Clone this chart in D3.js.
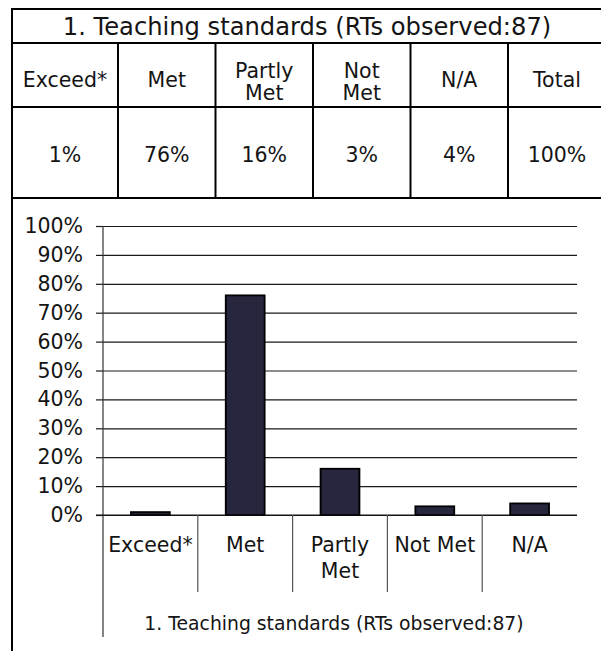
<!DOCTYPE html>
<html>
<head>
<meta charset="utf-8">
<script src="https://cdn.jsdelivr.net/npm/d3@7"></script>
<style>
  html, body { margin: 0; padding: 0; background: #fff; }
  svg { display: block; font-family: "DejaVu Sans", Verdana, sans-serif; }
</style>
</head>
<body>
<svg id="chart" width="601" height="651"></svg>
<script>
// ---- data ----
const title = "1. Teaching standards (RTs observed:87)";
const categories = ["Exceed*", "Met", "Partly Met", "Not Met", "N/A"];
const values = [1, 76, 16, 3, 4];           // percent of RTs observed
const totalValue = 100;
const headerLines = [["Exceed*"], ["Met"], ["Partly", "Met"], ["Not", "Met"], ["N/A"], ["Total"]];
const categoryLines = [["Exceed*"], ["Met"], ["Partly", "Met"], ["Not Met"], ["N/A"]];
const yTicks = [0, 10, 20, 30, 40, 50, 60, 70, 80, 90, 100];

const svg = d3.select("#chart");
const ink = "#141414";

// ---- summary table ----
const tbl = { left: 12, right: 606, top: 9, titleBottom: 43, headBottom: 107, valBottom: 198 };
const colEdges = [12, 118, 215.5, 313, 410.5, 508, 606];
const tableValues = values.map(v => v + "%").concat([totalValue + "%"]);

const tg = svg.append("g").attr("class", "table");
// outer frame (left edge runs down past the chart)
tg.append("line").attr("x1", tbl.left).attr("x2", tbl.left).attr("y1", tbl.top - 1).attr("y2", 651)
  .attr("stroke", "#000").attr("stroke-width", 2);
[tbl.top, tbl.titleBottom, tbl.headBottom, tbl.valBottom].forEach(y => {
  tg.append("line").attr("x1", tbl.left).attr("x2", tbl.right).attr("y1", y).attr("y2", y)
    .attr("stroke", "#000").attr("stroke-width", 2);
});
colEdges.slice(1, -1).forEach(x => {
  tg.append("line").attr("x1", x).attr("x2", x).attr("y1", tbl.titleBottom).attr("y2", tbl.valBottom)
    .attr("stroke", "#000").attr("stroke-width", 2);
});

tg.append("text").attr("x", (tbl.left + tbl.right) / 2 - 2).attr("y", 35)
  .attr("text-anchor", "middle").attr("font-size", 24.2).attr("fill", ink).text(title);

headerLines.forEach((lines, i) => {
  const cx = (colEdges[i] + colEdges[i + 1]) / 2;
  const t = tg.append("text").attr("text-anchor", "middle").attr("font-size", 20.5).attr("fill", ink);
  const base = lines.length === 1 ? 87 : 78;
  lines.forEach((s, j) => t.append("tspan").attr("x", cx).attr("y", base + j * 22).text(s));
});
tableValues.forEach((s, i) => {
  const cx = (colEdges[i] + colEdges[i + 1]) / 2;
  tg.append("text").attr("x", cx).attr("y", 162).attr("text-anchor", "middle")
    .attr("font-size", 20.5).attr("fill", ink).text(s);
});

// ---- bar chart ----
const plot = { left: 103, right: 577, top: 226, bottom: 515 };
const x = d3.scaleBand().domain(categories).range([plot.left, plot.right]).padding(0);
const y = d3.scaleLinear().domain([0, 100]).range([plot.bottom, plot.top]);
const barW = x.bandwidth() * 0.41;

// gridlines
svg.append("g").attr("transform", `translate(${plot.left},0)`)
  .call(d3.axisLeft(y).tickValues(yTicks).tickSize(-(plot.right - plot.left)).tickFormat(""))
  .call(g => g.select(".domain").remove())
  .call(g => g.selectAll("line").attr("stroke", "#1a1a1a").attr("stroke-width", 1.2));

// y axis ticks + labels
svg.append("g").attr("transform", `translate(${plot.left},0)`)
  .call(d3.axisLeft(y).tickValues(yTicks).tickSize(7).tickPadding(13).tickFormat(d => d + "%"))
  .call(g => g.select(".domain").remove())
  .call(g => g.selectAll("line").attr("stroke", "#1a1a1a").attr("stroke-width", 1.2))
  .call(g => g.selectAll("text").attr("font-size", 20.5).attr("fill", ink)
    .attr("font-family", "DejaVu Sans, Verdana, sans-serif"));

// vertical axis line, extended down through the category labels
svg.append("line").attr("x1", plot.left).attr("x2", plot.left).attr("y1", plot.top).attr("y2", 637)
  .attr("stroke", "#333").attr("stroke-width", 1.2);

// bars
svg.append("g").selectAll("rect").data(categories).join("rect")
  .attr("x", d => x(d) + (x.bandwidth() - barW) / 2)
  .attr("y", (d, i) => y(values[i]))
  .attr("width", barW)
  .attr("height", (d, i) => y(0) - y(values[i]))
  .attr("fill", "#26263f")
  .attr("stroke", "#000")
  .attr("stroke-width", 1.8);

// baseline
svg.append("line").attr("x1", plot.left - 7).attr("x2", plot.right).attr("y1", y(0)).attr("y2", y(0))
  .attr("stroke", "#111").attr("stroke-width", 1.2);

// category separators
categories.slice(1).forEach(c => {
  svg.append("line").attr("x1", x(c)).attr("x2", x(c)).attr("y1", y(0)).attr("y2", 592)
    .attr("stroke", "#555").attr("stroke-width", 1.2);
});

// category labels
categoryLines.forEach((lines, i) => {
  const cx = x(categories[i]) + x.bandwidth() / 2;
  const t = svg.append("text").attr("text-anchor", "middle").attr("font-size", 20.5).attr("fill", ink);
  lines.forEach((s, j) => t.append("tspan").attr("x", cx).attr("y", 552 + j * 26).text(s));
});

// group label under the categories
svg.append("text").attr("x", 334).attr("y", 630).attr("text-anchor", "middle")
  .attr("font-size", 18.8).attr("fill", ink).text(title);
</script>
</body>
</html>
